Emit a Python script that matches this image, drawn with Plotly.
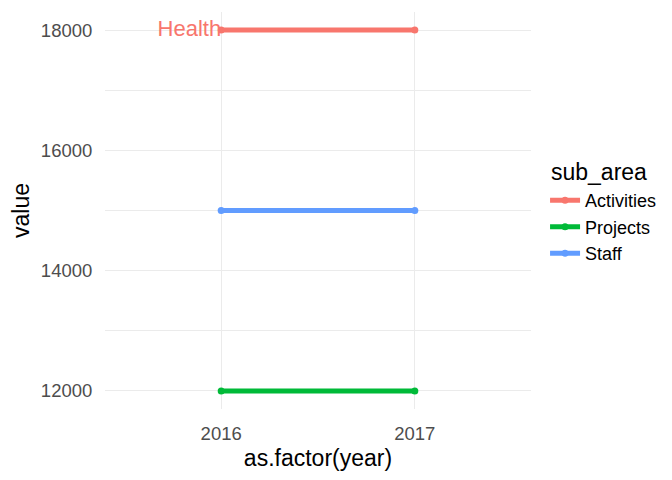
import plotly.graph_objects as go

years = ["2016", "2017"]
sub_areas = ["Activities", "Projects", "Staff"]
values = {
    "Activities": [18000, 18000],
    "Projects": [12000, 12000],
    "Staff": [15000, 15000],
}
colors = {"Activities": "#F8766D", "Projects": "#00BA38", "Staff": "#619CFF"}
label_text = "Health"
label_area = "Activities"
label_year = "2016"
label_value = 18000

FONT = "Liberation Sans, Arial"

fig = go.Figure()
for s in sub_areas:
    fig.add_trace(go.Scatter(
        x=years, y=values[s], mode="lines+markers", name=s,
        line=dict(color=colors[s], width=5),
        marker=dict(color=colors[s], size=7),
    ))

fig.add_trace(go.Scatter(
    x=[label_year], y=[label_value], mode="text", text=[label_text],
    textposition="middle left", showlegend=False,
    textfont=dict(color=colors[label_area], size=22, family=FONT),
))

fig.update_layout(
    width=672, height=480,
    paper_bgcolor="white", plot_bgcolor="white",
    margin=dict(l=97, r=149, t=4, b=79),
    font=dict(family=FONT, color="black"),
    xaxis=dict(
        type="category", range=[-0.6, 1.6],
        showgrid=True, gridcolor="#EBEBEB", gridwidth=1.1,
        zeroline=False, showline=False,
        ticks="outside", ticklen=8, tickcolor="rgba(0,0,0,0)",
        tickfont=dict(size=18.5, color="#4D4D4D"),
        title=dict(text="as.factor(year)", font=dict(size=23, color="black"), standoff=6),
    ),
    yaxis=dict(
        range=[11700, 18300], tickvals=[12000, 14000, 16000, 18000],
        ticktext=["12000", "14000", "16000", "18000"],
        showgrid=True, gridcolor="#EBEBEB", gridwidth=1.1,
        minor=dict(tickvals=[13000, 15000, 17000], showgrid=True, gridcolor="#EBEBEB", gridwidth=0.6, ticks=""),
        zeroline=False, showline=False,
        ticks="outside", ticklen=8, tickcolor="rgba(0,0,0,0)",
        tickfont=dict(size=18.5, color="#4D4D4D"),
        title=dict(text="value", font=dict(size=23, color="black"), standoff=10),
    ),
    legend=dict(
        font=dict(size=18, color="black"),
        x=1.033, xanchor="left", y=0.458, yanchor="middle",
        tracegroupgap=0, itemwidth=30,
    ),
    annotations=[dict(
        text="sub_area", xref="paper", yref="paper", x=1.042, y=0.597,
        xanchor="left", yanchor="middle", showarrow=False,
        font=dict(size=23, color="black", family=FONT),
    )],
)

fig.write_html("out.html")
